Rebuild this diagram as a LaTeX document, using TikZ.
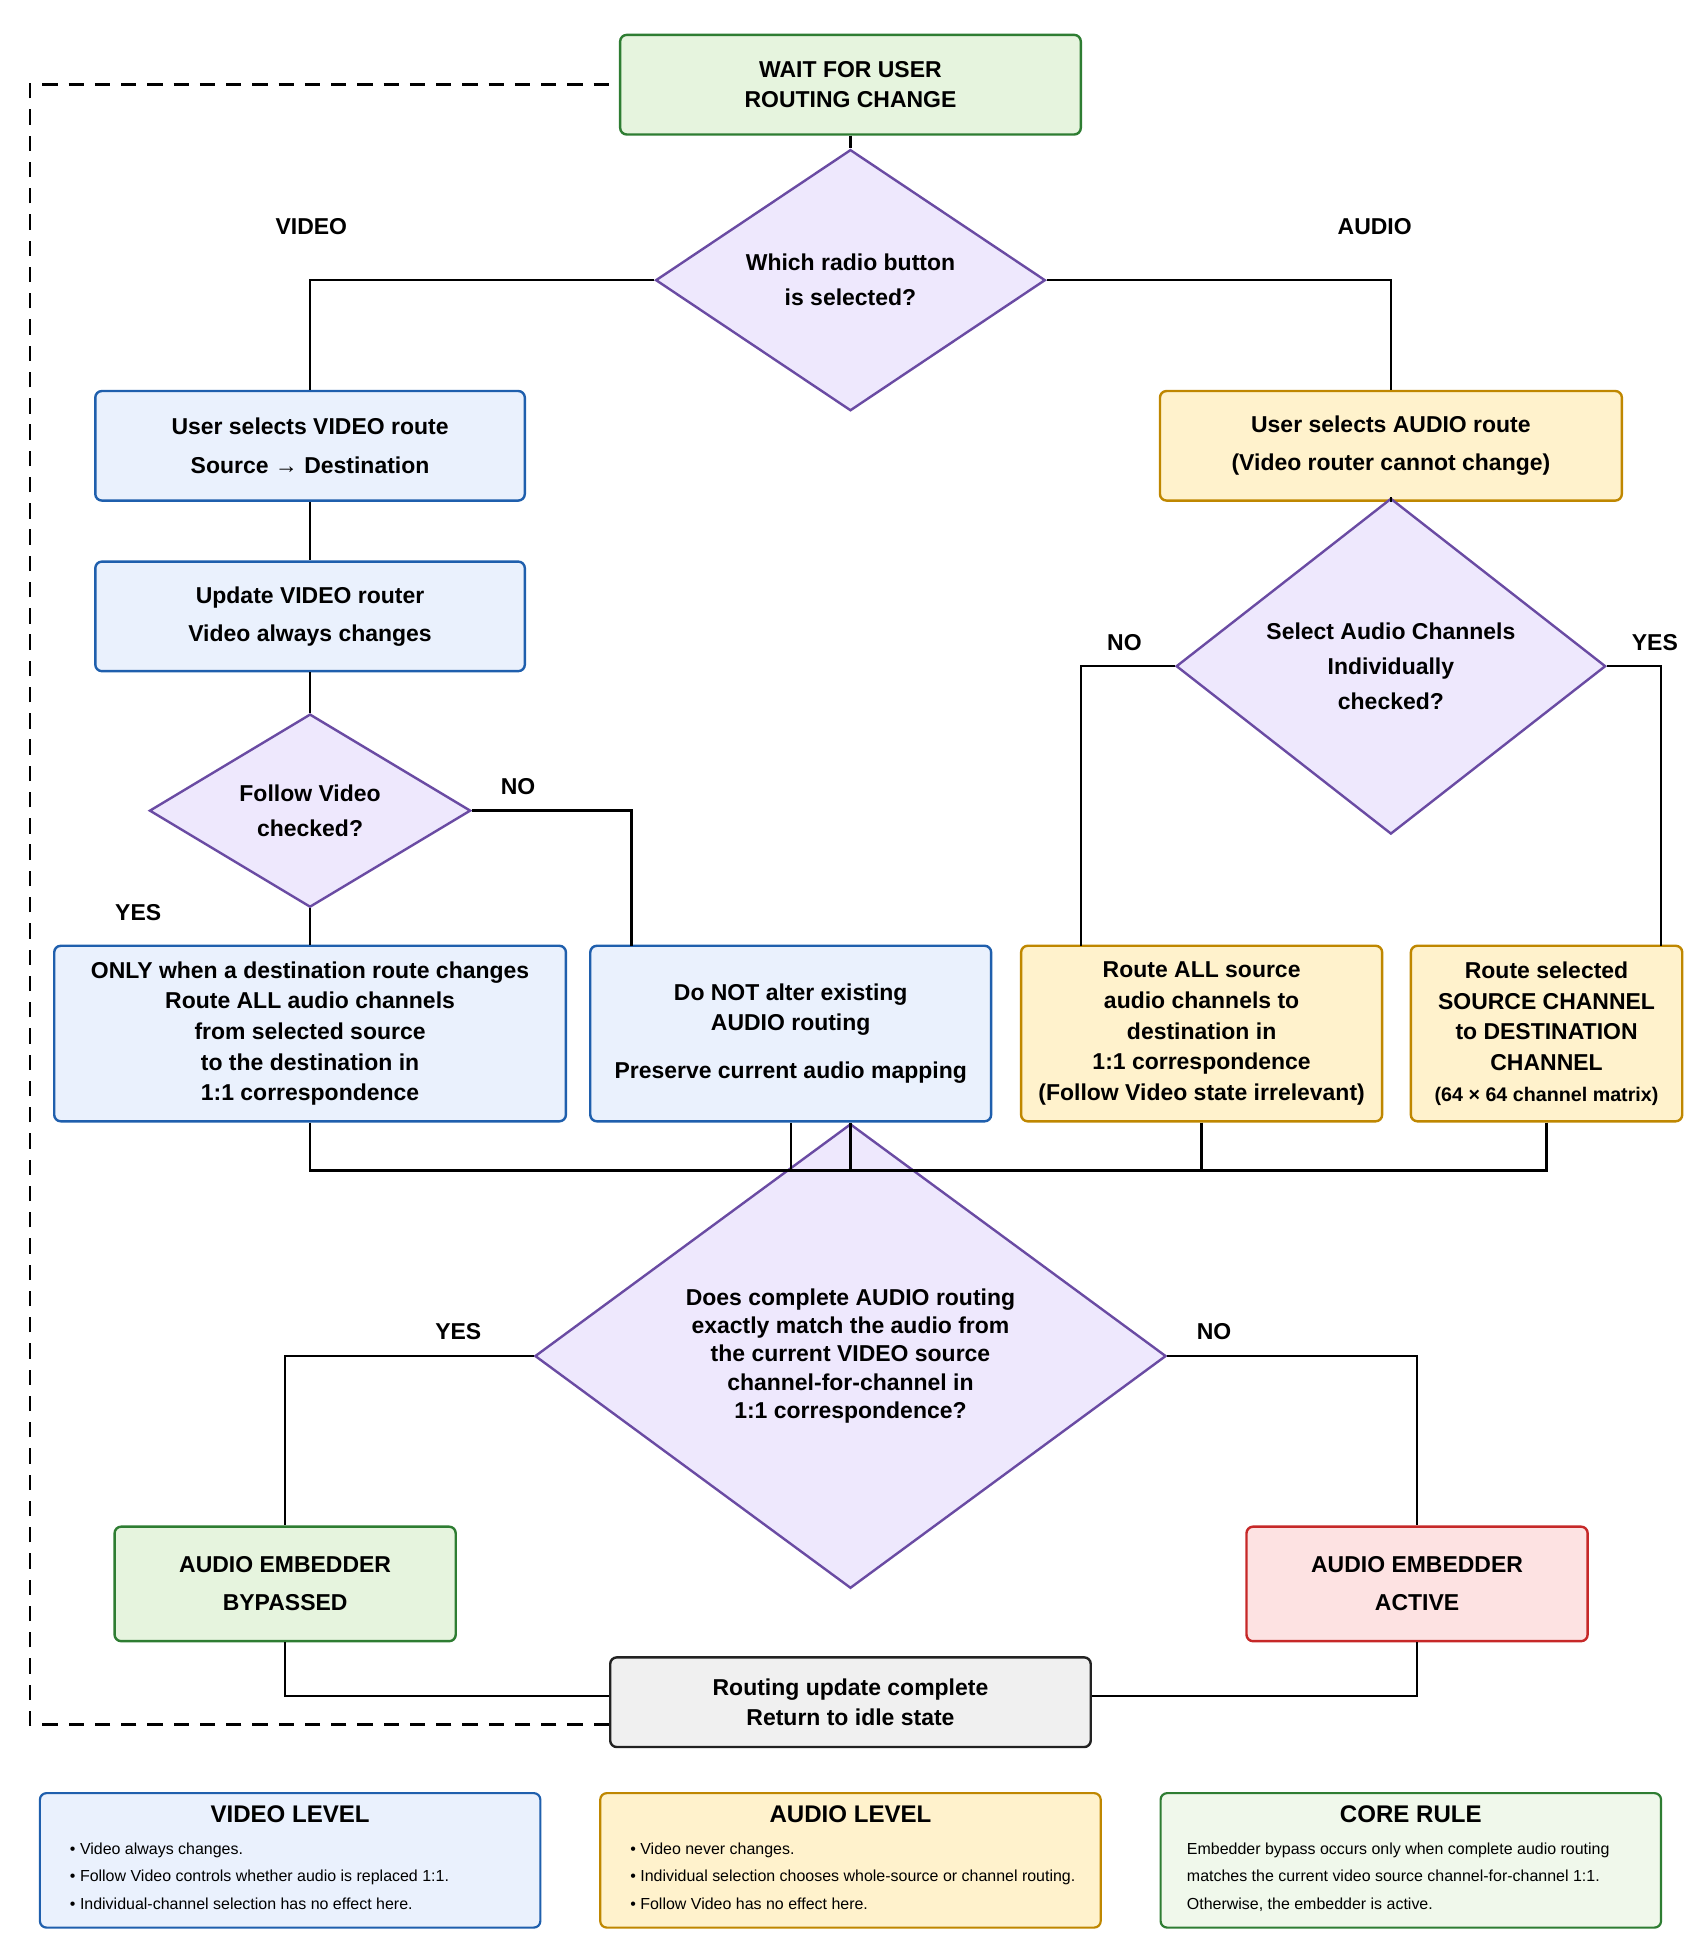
\documentclass[tikz,border=0pt]{standalone}
\usepackage{fontspec}
\setmainfont{Liberation Sans}
\usetikzlibrary{shapes.geometric}
\definecolor{grnf}{HTML}{E6F4DE}\definecolor{grnd}{HTML}{2E7D32}
\definecolor{bluf}{HTML}{EAF1FD}\definecolor{blud}{HTML}{1F5FAD}
\definecolor{yelf}{HTML}{FFF2CC}\definecolor{yeld}{HTML}{BF8700}
\definecolor{purf}{HTML}{EEE8FD}\definecolor{purd}{HTML}{6A4BA3}
\definecolor{redf}{HTML}{FDE2E2}\definecolor{redd}{HTML}{C62828}
\definecolor{gryf}{HTML}{F0F0F0}\definecolor{gryd}{HTML}{222222}
\tikzset{
  box/.style={draw,rounded corners=3pt,line width=1.1pt,align=center,inner sep=0pt,
    font=\fontsize{10.5}{14}\selectfont\bfseries},
  vbox/.style={box,fill=bluf,draw=blud},
  abox/.style={box,fill=yelf,draw=yeld},
  gbox/.style={box,fill=grnf,draw=grnd},
  dec/.style={diamond,draw=purd,fill=purf,line width=1.1pt,inner sep=0pt,align=center,
    font=\fontsize{10.5}{15}\selectfont\bfseries},
  lab/.style={font=\fontsize{10.5}{13}\selectfont\bfseries},
  wire/.style={line width=1.1pt},
  key/.style={draw,rounded corners=3pt,line width=1pt,minimum width=8.04cm,minimum height=2.16cm},
  keyt/.style={font=\fontsize{11}{13}\selectfont\bfseries},
  keyb/.style={font=\fontsize{7.3}{12.4}\selectfont,align=left,anchor=north west}
}
\begin{document}
\begin{tikzpicture}[x=0.02cm,y=-0.02cm]
\useasboundingbox (0,0) rectangle (1365,1566);
% top
\node[gbox,minimum width=7.4cm,minimum height=1.6cm] (wait) at (683,68) {WAIT FOR USER\\ROUTING CHANGE};
\node[dec,minimum width=6.26cm,minimum height=3.06cm,font=\fontsize{10.5}{16}\selectfont\bfseries] (radio) at (683,225) {Which radio button\\is selected?};
\node[lab] (vlab) at (250,182) {VIDEO};
\node[lab] (alab) at (1104,182) {AUDIO};
% video side
\node[vbox,minimum width=6.9cm,minimum height=1.76cm,font=\fontsize{10.5}{17.5}\selectfont\bfseries] (vsel) at (249,358) {User selects VIDEO route\\Source \textrightarrow\ Destination};
\node[vbox,minimum width=6.9cm,minimum height=1.76cm,font=\fontsize{10.5}{17.5}\selectfont\bfseries] (vupd) at (249,495) {Update VIDEO router\\Video always changes};
\node[dec,minimum width=5.16cm,minimum height=2.72cm,font=\fontsize{10.5}{16}\selectfont\bfseries] (follow) at (249,651) {Follow Video\\checked?};
\node[lab] (fno) at (416,632) {NO};
\node[lab] (fyes) at (111,733) {YES};
\node[vbox,minimum width=8.22cm,minimum height=2.82cm] (only) at (249,830) {ONLY when a destination route changes\\Route ALL audio channels\\from selected source\\to the destination in\\1:1 correspondence};
\node[vbox,minimum width=6.44cm,minimum height=2.82cm] (keep) at (635,830) {Do NOT alter existing\\AUDIO routing\\[8pt]Preserve current audio mapping};
% audio side
\node[abox,minimum width=7.42cm,minimum height=1.76cm,font=\fontsize{10.5}{17.5}\selectfont\bfseries] (asel) at (1117,358) {User selects AUDIO route\\(Video router cannot change)};
\node[dec,minimum width=6.9cm,minimum height=3.36cm,font=\fontsize{10.5}{16}\selectfont\bfseries] (indiv) at (1117,535) {Select Audio Channels\\Individually\\checked?};
\node[lab] (ino) at (903,516) {NO};
\node[lab] (iyes) at (1329,516) {YES};
\node[abox,minimum width=5.8cm,minimum height=2.82cm] (whole) at (965,830) {Route ALL source\\audio channels to\\destination in\\1:1 correspondence\\(Follow Video state irrelevant)};
\node[abox,minimum width=4.36cm,minimum height=2.82cm] (chan) at (1242,830) {Route selected\\SOURCE CHANNEL\\to DESTINATION\\CHANNEL\\{\fontsize{9}{11}\selectfont(64 × 64 channel matrix)}};
% embedder decision
\coordinate (merge) at (683,940);
\node[dec,minimum width=10.14cm,minimum height=4.16cm,font=\fontsize{10.5}{13}\selectfont\bfseries] (match) at (683,1089) {Does complete AUDIO routing\\exactly match the audio from\\the current VIDEO source\\channel-for-channel in\\1:1 correspondence?};
\node[lab] (myes) at (368,1069) {YES};
\node[lab] (mno) at (975,1069) {NO};
\node[gbox,minimum width=5.48cm,minimum height=1.84cm,font=\fontsize{10.5}{17.5}\selectfont\bfseries] (bypass) at (229,1272) {AUDIO EMBEDDER\\BYPASSED};
\node[box,fill=redf,draw=redd,minimum width=5.48cm,minimum height=1.84cm,font=\fontsize{10.5}{17.5}\selectfont\bfseries] (active) at (1138,1272) {AUDIO EMBEDDER\\ACTIVE};
\node[box,fill=gryf,draw=gryd,minimum width=7.72cm,minimum height=1.44cm] (done) at (683,1367) {Routing update complete\\Return to idle state};
% connectors
\draw[wire] (wait) -- (radio.north);
\draw[wire] (radio.west) -| (vsel.north);
\draw[wire] (radio.east) -| (asel.north);
\draw[wire] (vsel) -- (vupd);
\draw[wire] (vupd) -- (follow.north);
\draw[wire] (follow.south) -- (only.north);
\draw[wire] (follow.east) -| (507,760);
\draw[wire] (asel) -- (indiv.north);
\draw[wire] (indiv.west) -| (868,760);
\draw[wire] (indiv.east) -| (1334,760);
\draw[wire] (only.south) |- (merge) (keep.south) |- (merge) (whole.south) |- (merge) (chan.south) |- (merge);
\draw[wire] (merge) -- (match.north);
\draw[wire] (match.west) -| (bypass.north);
\draw[wire] (match.east) -| (active.north);
\draw[wire] (bypass.south) |- (done.west|-0,1362);
\draw[wire] (active.south) |- (done.east|-0,1362);
\draw[wire,dashed,dash pattern=on 7pt off 5pt] (done.west|-0,1385) -| (24,68) -- (wait.west);
% key
\node[key,fill=bluf,draw=blud] (kvid) at (233,1494) {};
\node[keyt] (kvidt) at (233,1457) {VIDEO LEVEL};
\node[keyb] (kvidb) at (50,1474) {• Video always changes.\\• Follow Video controls whether audio is replaced 1:1.\\• Individual-channel selection has no effect here.};
\node[key,fill=yelf,draw=yeld] (kaud) at (683,1494) {};
\node[keyt] (kaudt) at (683,1457) {AUDIO LEVEL};
\node[keyb] (kaudb) at (500,1474) {• Video never changes.\\• Individual selection chooses whole-source or channel routing.\\• Follow Video has no effect here.};
\node[key,fill=grnf!60,draw=grnd] (kcore) at (1133,1494) {};
\node[keyt] (kcoret) at (1133,1457) {CORE RULE};
\node[keyb] (kcoreb) at (947,1474) {Embedder bypass occurs only when complete audio routing\\matches the current video source channel-for-channel 1:1.\\Otherwise, the embedder is active.};
\end{tikzpicture}
\end{document}
